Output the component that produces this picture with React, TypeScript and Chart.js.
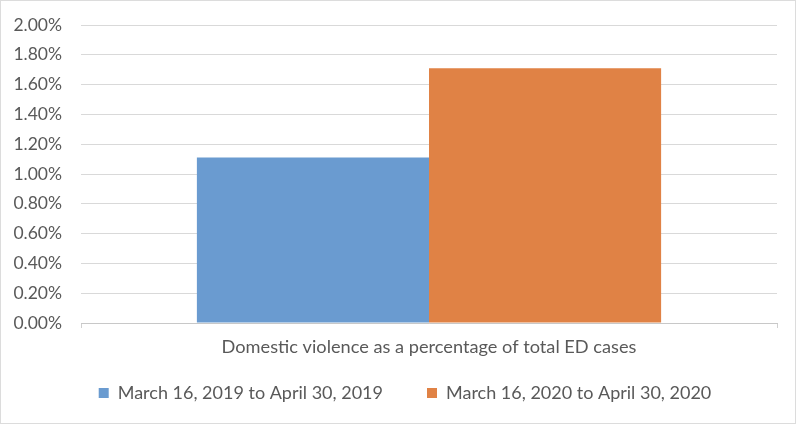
import React, { useEffect, useRef } from "react";
import { Chart, registerables } from "chart.js";

Chart.register(...registerables);

const categories = ["Domestic violence as a percentage of total ED cases"];
const series2019Label = "March 16, 2019 to April 30, 2019";
const series2020Label = "March 16, 2020 to April 30, 2020";
const series2019 = [1.11];
const series2020 = [1.71];
const yTicks = [0, 0.2, 0.4, 0.6, 0.8, 1.0, 1.2, 1.4, 1.6, 1.8, 2.0];

const FONT = "Lato, 'Open Sans', sans-serif";
const TEXT = "#595959";

export default function App() {
  const ref = useRef<HTMLCanvasElement | null>(null);

  useEffect(() => {
    if (!ref.current) return;
    const frame = {
      id: "frame",
      beforeDraw(chart: any) {
        const ctx = chart.ctx;
        ctx.save();
        ctx.fillStyle = "#ffffff";
        ctx.fillRect(0, 0, chart.width, chart.height);
        ctx.strokeStyle = "#dcdcdc";
        ctx.lineWidth = 1;
        ctx.strokeRect(0.5, 0.5, 795, chart.height - 1);
        ctx.restore();
      },
    };
    const legendFix = {
      id: "legendFix",
      beforeLayout(chart: any) {
        const lg = chart.legend;
        if (lg && !lg._patched) {
          const f = lg.fit;
          lg.fit = function (this: any) {
            f.call(this);
            this.height = 64;
          };
          lg._patched = true;
        }
      },
      afterLayout(chart: any) {
        const lg = chart.legend;
        if (lg) {
          lg.top -= 20;
          lg.bottom -= 20;
          lg.left += 12.5;
          lg.right += 12.5;
        }
      },
    };
    const chart = new Chart(ref.current, {
      type: "bar",
      data: {
        labels: categories,
        datasets: [
          {
            label: series2019Label,
            data: series2019,
            backgroundColor: "#6A9BD0",
            borderWidth: 0,
          },
          {
            label: series2020Label,
            data: series2020,
            backgroundColor: "#E08245",
            borderWidth: 0,
          },
        ],
      },
      options: {
        responsive: false,
        animation: false,
        layout: { padding: { left: 8, right: 23, top: 25, bottom: 0 } },
        datasets: {
          bar: { barPercentage: 1, categoryPercentage: 0.667 },
        },
        plugins: {
          legend: {
            position: "bottom",
            labels: {
              boxWidth: 10,
              boxHeight: 10,
              padding: 44,
              color: TEXT,
              font: { family: FONT, size: 18 },
            },
          },
          tooltip: { enabled: false },
        },
        scales: {
          x: {
            grid: {
              drawOnChartArea: false,
              drawTicks: true,
              tickLength: 5,
              color: "#d0d0d0",
            },
            border: { color: "#c8c8c8", width: 1 },
            ticks: {
              color: TEXT,
              font: { family: FONT, size: 18.2 },
              padding: 8,
            },
            afterFit(scale: any) {
              scale.height = 37;
            },
          },
          y: {
            min: 0,
            max: 2,
            afterBuildTicks(scale: any) {
              scale.ticks = yTicks.map((v) => ({ value: v }));
            },
            grid: { color: "#d9d9d9", drawTicks: false },
            border: { display: false },
            ticks: {
              color: TEXT,
              font: { family: FONT, size: 17.5 },
              padding: 19,
              callback: (v: any) => Number(v).toFixed(2) + "%",
            },
            afterFit(scale: any) {
              scale.width = 73;
              scale.paddingTop = 0;
              scale.paddingBottom = 0;
            },
          },
        },
      },
      plugins: [frame, legendFix],
    });
    return () => chart.destroy();
  }, []);

  return (
    <div style={{ position: "absolute", left: 0, top: 0, width: 800, height: 424 }}>
      <canvas ref={ref} width={800} height={424} />
    </div>
  );
}
